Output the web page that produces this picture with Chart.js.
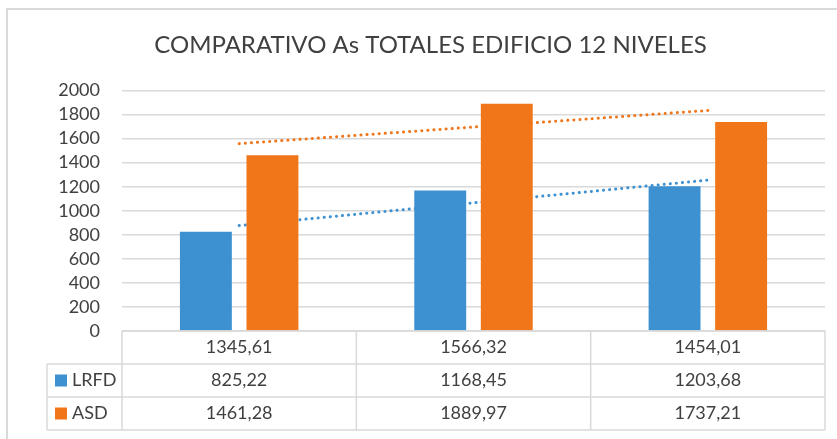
<!DOCTYPE html>
<html>
<head>
<meta charset="utf-8">
<script src="https://cdn.jsdelivr.net/npm/chart.js@4.4.1/dist/chart.umd.min.js"></script>
<style>
  html, body { margin: 0; padding: 0; background: #fff; }
  #wrap { width: 837px; height: 439px; }
</style>
</head>
<body>
<div id="wrap"><canvas id="chart"></canvas></div>
<script>
// data
const categories = ['1345,61', '1566,32', '1454,01'];
const lrfd = [825.22, 1168.45, 1203.68];
const asd = [1461.28, 1889.97, 1737.21];
// linear trendlines (Excel), values at each category
const lrfdTrend = [876.55, 1065.78, 1255.01];
const asdTrend = [1558.18, 1696.15, 1834.12];
const yTicks = [0, 200, 400, 600, 800, 1000, 1200, 1400, 1600, 1800, 2000];
const titleText = 'COMPARATIVO As TOTALES EDIFICIO 12 NIVELES';

const BLUE = '#3d91d1';
const ORANGE = '#f1761a';
const GRID = '#d9d9d9';
const TEXT = '#404040';
const FONT = 'Lato, "Noto Sans", sans-serif';

const fmt = v => v.toFixed(2).replace('.', ',');

const tableRows = [
  { name: null, color: null, cells: categories },
  { name: 'LRFD', color: BLUE, cells: lrfd.map(fmt) },
  { name: 'ASD', color: ORANGE, cells: asd.map(fmt) }
];

// frame + title, drawn like the Excel chart area
const framePlugin = {
  id: 'frame',
  beforeDraw(chart) {
    const { ctx, width, height } = chart;
    ctx.save();
    ctx.strokeStyle = GRID;
    ctx.lineWidth = 2;
    ctx.beginPath();
    ctx.moveTo(7, height);
    ctx.lineTo(7, 9);
    ctx.lineTo(width, 9);
    ctx.stroke();

    ctx.font = '24px ' + FONT;
    ctx.fillStyle = TEXT;
    ctx.textAlign = 'center';
    ctx.textBaseline = 'middle';
    ctx.fillText(titleText, width / 2 + 12, 45);
    ctx.restore();
  }
};

const tablePlugin = {
  id: 'dataTable',
  afterDraw(chart) {
    const { ctx, chartArea: a } = chart;
    const rh = 33;
    const top = a.bottom;
    const n = categories.length;
    const cw = (a.right - a.left) / n;
    const legendLeft = 47;

    ctx.save();
    ctx.strokeStyle = GRID;
    ctx.lineWidth = 1.5;
    const line = (x1, y1, x2, y2) => {
      ctx.beginPath(); ctx.moveTo(x1, y1); ctx.lineTo(x2, y2); ctx.stroke();
    };
    line(a.left, top, a.right, top);
    for (let r = 1; r <= tableRows.length; r++) {
      line(legendLeft, top + r * rh, a.right, top + r * rh);
    }
    for (let i = 0; i <= n; i++) {
      line(a.left + i * cw, top, a.left + i * cw, top + tableRows.length * rh);
    }
    line(legendLeft, top + rh, legendLeft, top + tableRows.length * rh);

    ctx.font = '18px ' + FONT;
    ctx.fillStyle = TEXT;
    ctx.textBaseline = 'middle';
    tableRows.forEach((row, r) => {
      const cy = top + r * rh + rh / 2;
      ctx.textAlign = 'center';
      row.cells.forEach((t, i) => {
        ctx.fillText(t, a.left + i * cw + cw / 2, cy);
      });
      if (row.name) {
        ctx.fillStyle = row.color;
        ctx.fillRect(legendLeft + 8, cy - 6, 12, 12);
        ctx.fillStyle = TEXT;
        ctx.textAlign = 'left';
        ctx.fillText(row.name, legendLeft + 25, cy);
      }
    });
    ctx.restore();
  }
};

const dotted = color => ({
  type: 'line',
  borderColor: color,
  borderWidth: 3,
  borderDash: [0.1, 6],
  borderCapStyle: 'round',
  pointRadius: 0,
  fill: false,
  tension: 0,
  order: 2
});

new Chart(document.getElementById('chart'), {
  type: 'bar',
  data: {
    labels: categories,
    datasets: [
      { label: 'LRFD', data: lrfd, backgroundColor: BLUE, order: 1,
        categoryPercentage: 0.568, barPercentage: 0.78 },
      { label: 'ASD', data: asd, backgroundColor: ORANGE, order: 1,
        categoryPercentage: 0.568, barPercentage: 0.78 },
      Object.assign({ label: 'Lineal (LRFD)', data: lrfdTrend }, dotted(BLUE)),
      Object.assign({ label: 'Lineal (ASD)', data: asdTrend }, dotted(ORANGE))
    ]
  },
  options: {
    responsive: true,
    maintainAspectRatio: false,
    animation: false,
    layout: { padding: { left: 0, right: 12, top: 90.5, bottom: 108 } },
    plugins: {
      legend: { display: false },
      tooltip: { enabled: false },
      title: { display: false }
    },
    scales: {
      x: { display: false },
      y: {
        min: 0,
        max: 2000,
        afterBuildTicks: s => { s.ticks = yTicks.map(v => ({ value: v })); },
        afterFit: s => { s.width = 122; },
        border: { display: false },
        grid: { color: GRID, lineWidth: 1.5, drawTicks: false },
        ticks: {
          autoSkip: false,
          padding: 22,
          color: TEXT,
          font: { family: FONT, size: 18 },
          callback: v => String(v)
        }
      }
    }
  },
  plugins: [framePlugin, tablePlugin]
});
</script>
</body>
</html>
